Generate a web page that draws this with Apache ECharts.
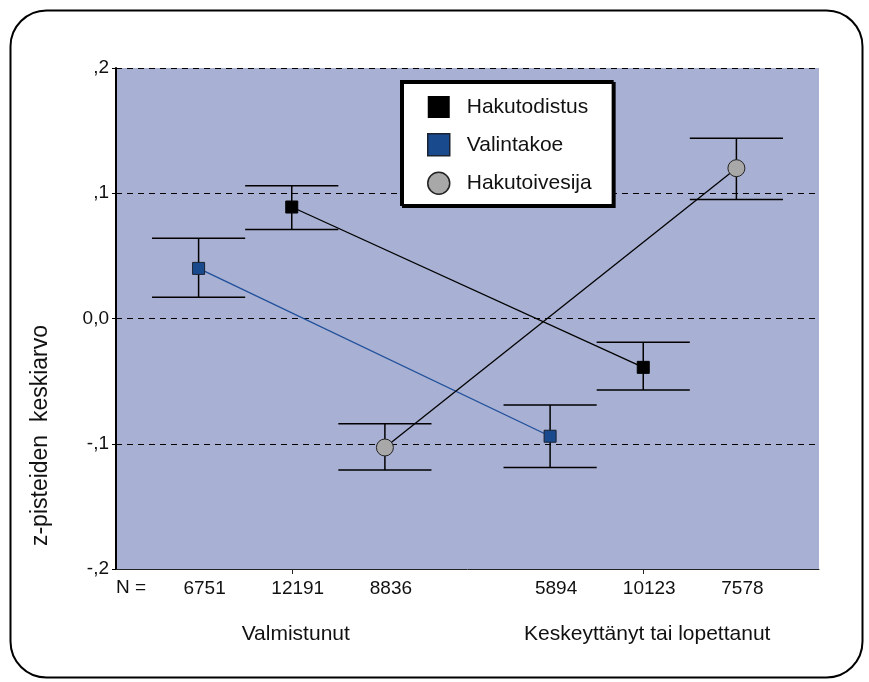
<!DOCTYPE html>
<html>
<head>
<meta charset="utf-8">
<script src="https://cdn.jsdelivr.net/npm/echarts@6/dist/echarts.min.js"></script>
<style>
html,body{margin:0;padding:0;background:#fff;}
#chart{width:869px;height:682px;}
</style>
</head>
<body>
<div id="chart"></div>
<script>
// ---- data ----
var categories = ['Valmistunut', 'Keskeyttänyt tai lopettanut'];
var seriesNames = ['Valintakoe', 'Hakutodistus', 'Hakutoivesija']; // order within each cluster
var legendOrder = ['Hakutodistus', 'Valintakoe', 'Hakutoivesija'];

var valintakoeMean = [0.040, -0.094];
var valintakoeLow = [0.017, -0.119];
var valintakoeHigh = [0.064, -0.069];
var valintakoeN = [6751, 5894];

var hakutodistusMean = [0.089, -0.039];
var hakutodistusLow = [0.071, -0.057];
var hakutodistusHigh = [0.106, -0.019];
var hakutodistusN = [12191, 10123];

var hakutoivesijaMean = [-0.103, 0.120];
var hakutoivesijaLow = [-0.121, 0.095];
var hakutoivesijaHigh = [-0.084, 0.144];
var hakutoivesijaN = [8836, 7578];

var yTickLabels = ['-,2', '-,1', '0,0', ',1', ',2'];
var yAxisTitle = 'z-pisteiden  keskiarvo';
var nLabel = 'N =';

// ---- layout helpers ----
var groups = {
  'Valintakoe': {mean: valintakoeMean, low: valintakoeLow, high: valintakoeHigh, n: valintakoeN},
  'Hakutodistus': {mean: hakutodistusMean, low: hakutodistusLow, high: hakutodistusHigh, n: hakutodistusN},
  'Hakutoivesija': {mean: hakutoivesijaMean, low: hakutoivesijaLow, high: hakutoivesijaHigh, n: hakutoivesijaN}
};
var slot = 0.265;          // cluster slot width in x-axis units (each category = 1 unit)
function xPos(catIdx, serIdx) { return catIdx + 0.5 + (serIdx - 1) * slot; }

var styles = {
  'Hakutodistus': {symbol: 'rect', size: 12, fill: '#000000', border: '#000000', line: '#000000'},
  'Valintakoe': {symbol: 'rect', size: 12, fill: '#1a4a8e', border: '#1b2230', line: '#1f4f9a'},
  'Hakutoivesija': {symbol: 'circle', size: 17, fill: '#a8a8a8', border: '#222222', line: '#000000'}
};

var errData = [];
var nData = [];
var lineSeries = [];
seriesNames.forEach(function (name, s) {
  var g = groups[name];
  var pts = [];
  categories.forEach(function (c, i) {
    var x = xPos(i, s);
    errData.push([x, g.low[i], g.high[i]]);
    nData.push([x, -0.2, String(g.n[i])]);
    pts.push([x, g.mean[i]]);
  });
  var st = styles[name];
  lineSeries.push({
    name: name, type: 'line', xAxisIndex: 1, yAxisIndex: 0,
    data: pts, symbol: st.symbol, symbolSize: st.size, showAllSymbol: true,
    lineStyle: {color: st.line, width: 1.3},
    itemStyle: {color: st.fill, borderColor: st.border, borderWidth: 1},
    emphasis: {disabled: true}, z: 5, animation: false
  });
});

var font = 'Liberation Sans, Arial, Helvetica, sans-serif';

var chart = echarts.init(document.getElementById('chart'), null, {renderer: 'canvas'});
var option = {
  animation: false,
  backgroundColor: '#ffffff',
  textStyle: {fontFamily: font},
  grid: {left: 116, right: 50, top: 68, bottom: 113, show: true, backgroundColor: '#a8b0d3', borderWidth: 0},
  legend: {
    orient: 'vertical', left: 401, top: 81,
    padding: [15, 21, 10, 26],
    itemWidth: 22, itemHeight: 22, itemGap: 15,
    backgroundColor: '#ffffff', borderColor: '#000000', borderWidth: 2,
    shadowColor: '#000000', shadowOffsetX: 2, shadowOffsetY: 2, shadowBlur: 0,
    selectedMode: false,
    textStyle: {fontSize: 21, color: '#111', fontFamily: font, padding: [0, 0, 0, 12]},
    data: legendOrder.map(function (n) {
      var st = styles[n];
      return {name: n, icon: st.symbol, itemStyle: {color: st.fill, borderColor: st.border, borderWidth: n === 'Hakutodistus' ? 0 : 1.5}};
    })
  },
  xAxis: [
    {
      type: 'category', data: categories, boundaryGap: true,
      axisLine: {show: true, onZero: false, lineStyle: {color: '#222', width: 1}},
      axisTick: {show: true, alignWithLabel: true, length: 5, lineStyle: {color: '#222'}},
      axisLabel: {margin: 55, fontSize: 21, color: '#111', fontFamily: font, padding: [0, 0, 0, 8]},
      splitLine: {show: false}
    },
    {
      type: 'value', min: 0, max: 2, show: false, splitLine: {show: false}
    }
  ],
  yAxis: [{
    type: 'value', min: -0.2, max: 0.2, interval: 0.1,
    name: yAxisTitle, nameLocation: 'middle', nameRotate: 90, nameGap: 64,
    nameTextStyle: {fontSize: 23, color: '#111', fontFamily: font, padding: [0, 234, 0, 0]},
    axisLine: {show: true, lineStyle: {color: '#000', width: 2}},
    axisTick: {show: true, length: 4, lineStyle: {color: '#000'}},
    axisLabel: {fontSize: 19, color: '#111', margin: 7, fontFamily: font,
      formatter: function (v, idx) { return yTickLabels[idx]; }},
    splitLine: {show: true, lineStyle: {color: '#000', width: 1.2, type: [6, 5]}}
  }],
  graphic: [
    {type: 'rect', left: 8, top: 8, z: -10, silent: true,
      shape: {width: 852, height: 667, r: 36},
      style: {fill: 'none', stroke: '#000', lineWidth: 2}},
    {type: 'text', left: 116, top: 578, silent: true,
      style: {text: nLabel, fontSize: 19, fill: '#111', fontFamily: font}}
  ],
  series: [
    {
      type: 'custom', xAxisIndex: 1, yAxisIndex: 0, z: 2, clip: false, silent: true,
      data: errData,
      renderItem: function (params, api) {
        var x = api.value(0);
        var lo = api.coord([x, api.value(1)]);
        var hi = api.coord([x, api.value(2)]);
        var hw = api.size([slot, 0])[0] / 2;
        var ls = {stroke: '#000', lineWidth: 1.5};
        return {type: 'group', children: [
          {type: 'line', shape: {x1: lo[0], y1: lo[1], x2: hi[0], y2: hi[1]}, style: ls},
          {type: 'line', shape: {x1: lo[0] - hw, y1: lo[1], x2: lo[0] + hw, y2: lo[1]}, style: ls},
          {type: 'line', shape: {x1: hi[0] - hw, y1: hi[1], x2: hi[0] + hw, y2: hi[1]}, style: ls}
        ]};
      }
    },
    {
      type: 'custom', xAxisIndex: 1, yAxisIndex: 0, z: 2, clip: false, silent: true,
      data: nData,
      renderItem: function (params, api) {
        var p = api.coord([api.value(0), api.value(1)]);
        return {type: 'text', style: {text: nData[params.dataIndex][2], x: p[0] + 6, y: p[1] + 20,
          align: 'center', verticalAlign: 'middle', fontSize: 19, fill: '#111', fontFamily: font}};
      }
    }
  ].concat(lineSeries)
};
chart.setOption(option);
</script>
</body>
</html>
